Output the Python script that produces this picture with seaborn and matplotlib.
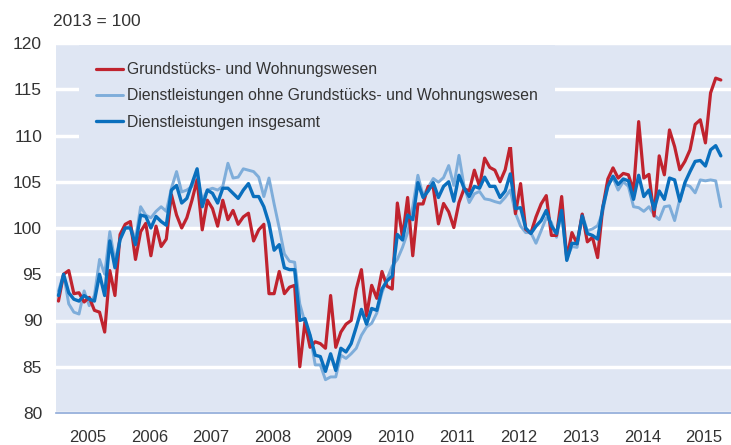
import numpy as np
import pandas as pd
import matplotlib
matplotlib.use("Agg")
import matplotlib.pyplot as plt
import seaborn as sns

# monthly index values, Jan 2005 - Oct 2015 (2013 = 100)
start_year = 2005
years = list(range(2005, 2016))

grundstuecke = [
    92.1, 95.0, 95.4, 92.9, 93.0, 92.0, 92.5, 91.1, 90.9, 88.75,
    95.4, 92.7, 99.3, 100.4, 100.7, 96.6, 99.6, 100.5, 97.0, 100.2,
    98.0, 98.8, 103.6, 101.4, 100.0, 101.1, 103.0, 105.2, 99.8, 103.0,
    102.1, 100.2, 103.0, 100.9, 101.9, 100.4, 101.2, 101.6, 98.6, 99.8,
    100.4, 92.9, 92.9, 95.3, 92.9, 93.6, 93.8, 85.0, 89.8, 87.1,
    87.7, 87.5, 87.0, 92.7, 87.1, 88.75, 89.6, 90.0, 93.4, 95.5,
    90.5, 93.8, 92.4, 95.3, 93.7, 93.4, 102.7, 99.0, 103.3, 97.0,
    102.6, 102.6, 104.5, 104.4, 100.45, 102.65, 101.75, 100.05, 102.75, 104.25,
    104.0, 106.25, 104.5, 107.55, 106.55, 106.25, 105.0, 106.3, 108.95, 101.55,
    104.8, 99.85, 99.45, 101.2, 102.6, 103.5, 99.2, 99.2, 103.4, 96.7,
    99.5, 98.3, 101.5, 98.5, 99.0, 96.8, 102.2, 105.3, 106.5, 105.4,
    105.9, 105.75, 104.0, 111.5, 105.4, 105.8, 101.3, 107.8, 105.75, 110.6,
    108.8, 106.3, 107.2, 108.45, 111.2, 111.7, 109.2, 114.6, 116.2, 116.0,
]

ohne_grundstuecke = [
    93.2, 95.0, 91.8, 90.9, 90.7, 93.2, 91.6, 92.7, 96.6, 95.0,
    99.6, 96.4, 98.9, 100.0, 100.2, 98.75, 102.3, 101.4, 101.1, 101.8,
    102.3, 101.8, 104.3, 106.1, 103.9, 104.1, 104.5, 105.8, 103.0, 104.1,
    104.3, 104.1, 104.5, 107.0, 105.4, 105.5, 106.4, 106.25, 106.1, 105.5,
    103.4, 105.4, 102.6, 100.0, 97.2, 96.4, 96.3, 91.8, 89.8, 88.4,
    85.2, 85.2, 83.6, 83.9, 83.9, 86.25, 85.9, 86.4, 87.0, 88.4,
    89.3, 89.7, 90.8, 93.0, 94.5, 95.9, 96.6, 97.9, 99.5, 102.3,
    105.7, 103.5, 104.4, 105.35, 104.95, 105.45, 106.75, 104.6, 107.85, 104.5,
    102.75, 103.7, 103.95, 103.15, 103.05, 102.85, 102.7, 103.3, 104.1, 101.6,
    100.2, 99.5, 99.5, 98.35, 99.7, 101.1, 100.6, 99.0, 101.7, 96.7,
    98.0, 97.9, 101.5, 99.7, 99.9, 100.25, 101.7, 104.7, 105.4, 104.1,
    105.0, 104.5, 102.3, 102.2, 101.8, 102.3, 101.4, 100.9, 102.3, 102.4,
    100.8, 103.1, 104.7, 104.5, 103.8, 105.2, 105.1, 105.2, 105.1, 102.3,
]

insgesamt = [
    92.7, 95.0, 93.0, 92.3, 92.1, 92.7, 92.3, 92.1, 95.0, 92.7,
    98.6, 95.7, 98.75, 100.0, 100.0, 98.2, 101.4, 101.25, 100.0, 101.25,
    100.7, 100.3, 104.1, 104.6, 102.7, 103.2, 104.8, 106.4, 102.3, 104.1,
    103.75, 102.7, 104.3, 104.3, 103.75, 103.2, 104.1, 104.8, 103.4, 103.4,
    102.3, 100.5, 97.6, 98.2, 95.7, 95.5, 95.5, 90.0, 90.2, 88.4,
    86.25, 86.1, 84.5, 86.4, 84.6, 87.0, 86.6, 87.5, 89.3, 91.2,
    89.6, 91.3, 91.1, 93.4, 94.3, 94.8, 99.3, 98.7, 101.4, 100.9,
    104.9, 103.3, 104.0, 104.9, 103.3, 104.5, 105.0, 102.9, 105.7, 104.3,
    103.4, 104.5, 104.3, 105.5, 104.5, 104.5, 103.3, 104.0, 105.85, 102.1,
    102.2, 100.0, 99.4, 100.2, 100.8, 101.9, 100.25, 99.4, 101.9, 96.5,
    98.35, 98.3, 101.3, 99.4, 99.2, 98.8, 102.2, 104.5, 105.6, 104.7,
    105.3, 105.1, 103.1, 105.7, 103.4, 104.1, 102.0, 104.0, 103.1, 105.4,
    105.2, 102.9, 104.9, 106.1, 107.2, 107.3, 106.7, 108.45, 108.9, 107.8,
]

labels = ["Grundstücks- und Wohnungswesen",
          "Dienstleistungen ohne Grundstücks- und Wohnungswesen",
          "Dienstleistungen insgesamt"]
colors = ["#C0232E", "#7EADDA", "#0A6FBD"]

months = np.arange(len(insgesamt))
xpos = start_year + (months + 0.3) / 12

df = pd.DataFrame({"x": xpos, labels[0]: grundstuecke,
                   labels[1]: ohne_grundstuecke, labels[2]: insgesamt})

sns.set_style("white")
plt.rcParams["font.family"] = ["Liberation Sans", "DejaVu Sans"]
txt = "#333333"
bg = "#DFE6F3"
axcol = "#8EA9D8"

fig = plt.figure(figsize=(7.31, 4.45), dpi=100)
ax = fig.add_axes([56 / 731, 1 - 413 / 445, 675 / 731, 370 / 445])
ax.set_facecolor(bg)

# light blue below, red, dark blue on top
for lab, col, lw, z in [(labels[1], colors[1], 2.1, 2),
                        (labels[0], colors[0], 2.3, 3),
                        (labels[2], colors[2], 2.4, 4)]:
    sns.lineplot(data=df, x="x", y=lab, color=col, linewidth=lw, ax=ax,
                 label=lab, zorder=z)

ax.set_ylim(80, 120)
ax.set_xlim(2004.985, 2015.94)
ax.set_yticks(range(80, 121, 5))
ax.grid(axis="y", color="white", linewidth=2.5, zorder=0)
ax.grid(axis="x", visible=False)
ax.set_axisbelow(True)

for s in ["left", "right", "top"]:
    ax.spines[s].set_visible(False)
ax.spines["bottom"].set_color(axcol)
ax.spines["bottom"].set_linewidth(1.2)
ax.spines["bottom"].set_zorder(5)

ax.tick_params(axis="y", length=0, pad=10, labelsize=12.5, labelcolor=txt)
ax.set_xticks(years)
ax.set_xticklabels([])
ax.set_xticks([y + 0.5 for y in years], minor=True)
ax.set_xticklabels([str(y) for y in years], minor=True)
ax.tick_params(axis="x", which="major", length=6, width=1, color=axcol,
               direction="out")
ax.tick_params(axis="x", which="minor", length=0, pad=12, labelsize=12,
               labelcolor=txt)
ax.set_xlabel("")
ax.set_ylabel("")

handles, labs = ax.get_legend_handles_labels()
order = [labs.index(l) for l in labels]
leg = ax.legend([handles[k] for k in order], [labs[k] for k in order],
                loc="upper left", bbox_to_anchor=(22.6 / 675, 0.995),
                borderaxespad=0, frameon=True, facecolor=bg, edgecolor="none",
                framealpha=1, fancybox=False, fontsize=11.3,
                handlelength=1.72, handletextpad=0.25, labelspacing=0.72,
                borderpad=1.1)
for t in leg.get_texts():
    t.set_color(txt)
leg.set_zorder(6)

fig.text(53 / 731, 1 - 21 / 445, "2013 = 100", ha="left", va="center",
         fontsize=12.5, color=txt)

fig.savefig("out.png", dpi=100)
